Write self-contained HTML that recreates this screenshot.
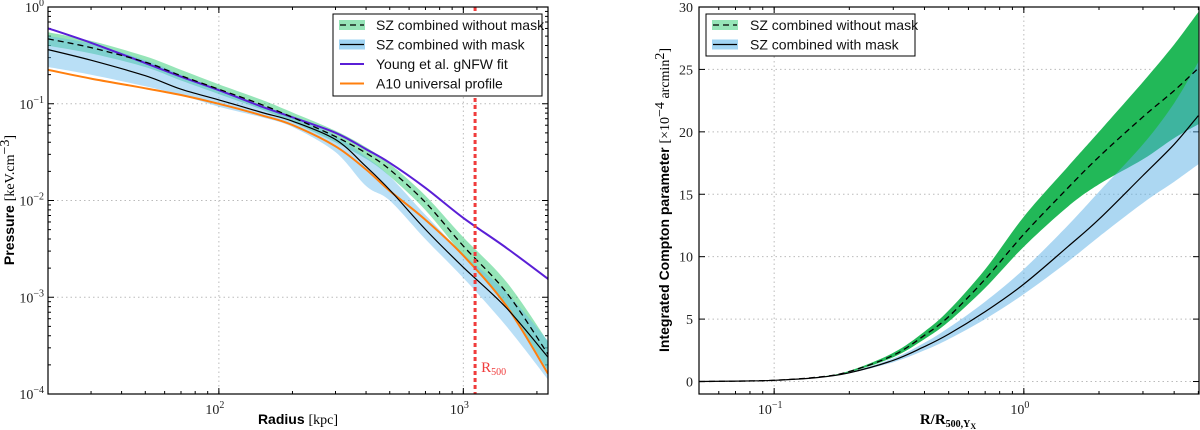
<!DOCTYPE html>
<html><head><meta charset="utf-8"><style>
html,body{margin:0;padding:0;background:#fff;}
svg{display:block;}
.tk{font-family:"Liberation Serif",serif;font-size:14px;fill:#222;}
.lg{font-family:"Liberation Sans",sans-serif;font-size:14px;fill:#111;}
.al{font-family:"Liberation Sans",sans-serif;font-size:14px;font-weight:bold;fill:#000;}
.as{font-family:"Liberation Serif",serif;font-size:14px;font-weight:normal;}
</style></head><body>
<svg id="fig" width="1200" height="430" viewBox="0 0 1200 430" xmlns="http://www.w3.org/2000/svg">
<g id="left"></g>
<g id="right"></g>
</svg>
<script>
// ---- Left chart data (log10 pressure) ----
const radii = [20,30,50,70,100,150,200,300,400,500,700,1000,1500,2220];
const youngLog = [-0.22,-0.37,-0.58,-0.72,-0.86,-1.03,-1.14,-1.30,-1.47,-1.61,-1.87,-2.18,-2.49,-2.81];
const a10Log = [-0.65,-0.74,-0.84,-0.91,-1.00,-1.12,-1.22,-1.44,-1.68,-1.90,-2.20,-2.57,-3.09,-3.79];
const maskLog = [-0.44,-0.55,-0.71,-0.85,-0.96,-1.09,-1.18,-1.37,-1.65,-1.89,-2.30,-2.69,-3.11,-3.62];
const nomaskLog = [-0.33,-0.42,-0.57,-0.71,-0.85,-1.01,-1.14,-1.34,-1.51,-1.68,-2.02,-2.47,-2.95,-3.59];
const nomaskUpLog = [-0.26,-0.35,-0.51,-0.65,-0.80,-0.96,-1.09,-1.28,-1.45,-1.62,-1.95,-2.38,-2.84,-3.46];
const nomaskLoLog = [-0.40,-0.48,-0.62,-0.76,-0.90,-1.06,-1.19,-1.40,-1.57,-1.75,-2.10,-2.57,-3.08,-3.76];
const maskUpLog = [-0.30,-0.38,-0.55,-0.70,-0.87,-1.02,-1.13,-1.33,-1.55,-1.75,-2.15,-2.55,-2.95,-3.45];
const maskLoLog = [-0.62,-0.70,-0.82,-0.91,-1.03,-1.14,-1.24,-1.50,-1.85,-2.00,-2.40,-2.80,-3.30,-3.85];
const r500 = 1117;
const leftYTicks = [0,-1,-2,-3,-4];
const leftXTicks = [2,3];
// ---- Right chart data ----
const ratios = [0.05,0.07,0.1,0.15,0.2,0.3,0.4,0.5,0.7,1,1.5,2,3,4,5];
const yNomask = [0,0.03,0.1,0.35,0.8,2.1,3.7,5.2,8.2,11.8,15.5,18.0,21.2,23.3,25.1];
const yNomaskUp = [0,0.03,0.1,0.37,0.85,2.3,4.0,5.7,9.0,13.2,17.2,20.0,24.0,27.0,29.6];
const yNomaskLo = [0,0.03,0.1,0.33,0.75,1.95,3.4,4.8,7.5,10.8,14.0,15.8,17.8,19.5,20.6];
const yMask = [0,0.03,0.1,0.32,0.7,1.7,2.8,3.8,5.6,7.8,10.8,13.0,16.5,19.0,21.3];
const yMaskUp = [0,0.03,0.1,0.33,0.75,1.85,3.1,4.3,6.4,9.0,12.5,15.2,19.0,22.3,25.6];
const yMaskLo = [0,0.03,0.1,0.3,0.65,1.55,2.5,3.4,5.0,7.0,9.6,11.6,14.3,16.0,17.4];
const rightYTicks = [0,5,10,15,20,25,30];
const rightXTicks = [-1,0];

const NS="http://www.w3.org/2000/svg";
function mk(p,tag,at,txt){const e=document.createElementNS(NS,tag);for(const k in at)e.setAttribute(k,at[k]);if(txt!==undefined)e.textContent=txt;p.appendChild(e);return e;}

const L={x0:48,x1:548,y0:7,y1:394,lxmin:Math.log10(20),lxmax:Math.log10(2220)};
const lx=r=>L.x0+(Math.log10(r)-L.lxmin)/(L.lxmax-L.lxmin)*(L.x1-L.x0);
const ly=lg=>L.y0+(0-lg)/4*(L.y1-L.y0);
const R={x0:699,x1:1199,y0:7,y1:394,lxmin:Math.log10(0.05),lxmax:Math.log10(5.03)};
const rx=v=>R.x0+(Math.log10(v)-R.lxmin)/(R.lxmax-R.lxmin)*(R.x1-R.x0);
const ry=v=>R.y1-(v+1)/31*(R.y1-R.y0);

function smooth(pts,start){
 let d=(start?'M':'L')+pts[0][0].toFixed(1)+','+pts[0][1].toFixed(1);
 for(let i=0;i<pts.length-1;i++){
  const p0=pts[Math.max(0,i-1)],p1=pts[i],p2=pts[i+1],p3=pts[Math.min(pts.length-1,i+2)];
  const c1x=p1[0]+(p2[0]-p0[0])/6,c1y=p1[1]+(p2[1]-p0[1])/6;
  const c2x=p2[0]-(p3[0]-p1[0])/6,c2y=p2[1]-(p3[1]-p1[1])/6;
  d+='C'+c1x.toFixed(1)+','+c1y.toFixed(1)+' '+c2x.toFixed(1)+','+c2y.toFixed(1)+' '+p2[0].toFixed(1)+','+p2[1].toFixed(1);
 }
 return d;
}
function pathLine(xs,ys,fx,fy){return smooth(xs.map((x,i)=>[fx(x),fy(ys[i])]),true);}
function pathBand(xs,up,lo,fx,fy){
 const a=xs.map((x,i)=>[fx(x),fy(up[i])]);
 const b=xs.map((x,i)=>[fx(x),fy(lo[i])]).reverse();
 return smooth(a,true)+smooth(b,false)+'Z';
}

// ===== LEFT =====
const gl=document.getElementById('left');
mk(gl,'clipPath',{id:'cl'}).appendChild(document.createElementNS(NS,'rect'));
const clr=gl.querySelector('#cl rect');clr.setAttribute('x',L.x0);clr.setAttribute('y',L.y0);clr.setAttribute('width',L.x1-L.x0);clr.setAttribute('height',L.y1-L.y0);
leftYTicks.forEach(t=>{
 const y=ly(t);
 if(t!==0&&t!==-4){const g=mk(gl,'line',{x1:L.x0,x2:L.x1,y1:y,y2:y,stroke:'#bbb','stroke-dasharray':'1.5,3','stroke-width':1});
 }
 const tl=mk(gl,'text',{x:L.x0-4,y:y+5,'text-anchor':'end',class:'tk'});
 
 tl.appendChild(document.createTextNode('10'));
 mk(tl,'tspan',{dy:-6,'font-size':'10'},t===0?'0':'\u2212'+(-t));
 mk(gl,'line',{x1:L.x0,x2:L.x0+6,y1:y,y2:y,stroke:'#000'});
 mk(gl,'line',{x1:L.x1,x2:L.x1-6,y1:y,y2:y,stroke:'#000'});
 if(t>-4)for(let m=2;m<10;m++){const ym=ly(t-1+Math.log10(m));mk(gl,'line',{x1:L.x0,x2:L.x0+3,y1:ym,y2:ym,stroke:'#000'});mk(gl,'line',{x1:L.x1,x2:L.x1-3,y1:ym,y2:ym,stroke:'#000'});}
});
leftXTicks.forEach(t=>{
 const x=lx(Math.pow(10,t));
 const g=mk(gl,'line',{x1:x,x2:x,y1:L.y0,y2:L.y1,stroke:'#bbb','stroke-dasharray':'1.5,3'});
 
 mk(gl,'line',{x1:x,x2:x,y1:L.y1,y2:L.y1-6,stroke:'#000'});mk(gl,'line',{x1:x,x2:x,y1:L.y0,y2:L.y0+6,stroke:'#000'});
 const tl=mk(gl,'text',{x:x-4,y:L.y1+20,'text-anchor':'middle',class:'tk'});
 
 tl.appendChild(document.createTextNode('10'));mk(tl,'tspan',{dy:-6,'font-size':'10'},String(t));
});
for(let d=1;d<=3;d++)for(let m=1;m<10;m++){const v=m*Math.pow(10,d);if(v<20||v>2220)continue;const x=lx(v);mk(gl,'line',{x1:x,x2:x,y1:L.y1,y2:L.y1-3,stroke:'#000'});mk(gl,'line',{x1:x,x2:x,y1:L.y0,y2:L.y0+3,stroke:'#000'});}
const gp=mk(gl,'g',{'clip-path':'url(#cl)'});
let e;
e=mk(gp,'path',{d:pathBand(radii,nomaskUpLog,nomaskLoLog,lx,ly),fill:'rgba(46,204,113,0.5)'});

e=mk(gp,'path',{d:pathBand(radii,maskUpLog,maskLoLog,lx,ly),fill:'rgba(100,185,235,0.45)'});

e=mk(gp,'path',{d:pathLine(radii,youngLog,lx,ly),fill:'none',stroke:'#5a1fd6','stroke-width':2});

e=mk(gp,'path',{d:pathLine(radii,a10Log,lx,ly),fill:'none',stroke:'#ff7f0e','stroke-width':2});

e=mk(gp,'path',{d:pathLine(radii,maskLog,lx,ly),fill:'none',stroke:'#000','stroke-width':1.2});

e=mk(gp,'path',{d:pathLine(radii,nomaskLog,lx,ly),fill:'none',stroke:'#000','stroke-width':1.3,'stroke-dasharray':'6,4'});

const xr=lx(r500);
e=mk(gl,'line',{x1:xr,x2:xr,y1:L.y0,y2:L.y1,stroke:'#f03c3c','stroke-width':3,'stroke-dasharray':'4,3'});

e=mk(gl,'text',{x:xr+6,y:372,fill:'#f03c3c','font-family':'Liberation Serif, serif','font-size':'15'});

e.appendChild(document.createTextNode('R'));mk(e,'tspan',{dy:3,'font-size':'10'},'500');
mk(gl,'rect',{x:L.x0,y:L.y0,width:L.x1-L.x0,height:L.y1-L.y0,fill:'none',stroke:'#000','stroke-width':1.2});
const lg=mk(gl,'g',{});
mk(lg,'rect',{x:333,y:14,width:209,height:82,fill:'#fff',stroke:'#000','stroke-width':1});
const leg=[['SZ combined without mask','rgba(46,204,113,0.5)','#000','6,4'],['SZ combined with mask','rgba(100,185,235,0.6)','#000',''],['Young et al. gNFW fit','','#5a1fd6',''],['A10 universal profile','','#ff7f0e','']];
leg.forEach((l,i)=>{const y=25+i*19.5;const g=mk(lg,'g',{});
 if(l[1])mk(g,'rect',{x:339,y:y-5,width:26,height:10,fill:l[1]});
 mk(g,'line',{x1:340,x2:364,y1:y,y2:y,stroke:l[2],'stroke-width':l[1]?1.3:2,'stroke-dasharray':l[3]||'none'});
 mk(g,'text',{x:376,y:y+5,class:'lg'},l[0]);});
e=mk(gl,'text',{x:298,y:424,'text-anchor':'middle',class:'al'});

e.appendChild(document.createTextNode('Radius '));mk(e,'tspan',{class:'as'},'[kpc]');
e=mk(gl,'text',{x:0,y:0,'text-anchor':'middle',class:'al',transform:'translate(14,200) rotate(-90)'});

e.appendChild(document.createTextNode('Pressure '));mk(e,'tspan',{class:'as'},'[keV.cm');mk(e,'tspan',{class:'as',dy:-5,'font-size':'10'},'\u22123');mk(e,'tspan',{class:'as',dy:5},']');

// ===== RIGHT =====
const gr=document.getElementById('right');
mk(gr,'clipPath',{id:'cr'}).appendChild(document.createElementNS(NS,'rect'));
const crr=gr.querySelector('#cr rect');crr.setAttribute('x',R.x0);crr.setAttribute('y',R.y0);crr.setAttribute('width',R.x1-R.x0);crr.setAttribute('height',R.y1-R.y0);
rightYTicks.forEach(t=>{const y=ry(t);
 if(t!==30){const g=mk(gr,'line',{x1:R.x0,x2:R.x1,y1:y,y2:y,stroke:'#bbb','stroke-dasharray':'1.5,3'});}
 mk(gr,'line',{x1:R.x0,x2:R.x0+6,y1:y,y2:y,stroke:'#000'});mk(gr,'line',{x1:R.x1,x2:R.x1-6,y1:y,y2:y,stroke:'#000'});
 const tl=mk(gr,'text',{x:R.x0-6,y:y+5,'text-anchor':'end',class:'tk'},String(t));});
rightXTicks.forEach(t=>{const x=rx(Math.pow(10,t));
 const g=mk(gr,'line',{x1:x,x2:x,y1:R.y0,y2:R.y1,stroke:'#bbb','stroke-dasharray':'1.5,3'});
 mk(gr,'line',{x1:x,x2:x,y1:R.y1,y2:R.y1-6,stroke:'#000'});mk(gr,'line',{x1:x,x2:x,y1:R.y0,y2:R.y0+6,stroke:'#000'});
 const tl=mk(gr,'text',{x:x-4,y:R.y1+20,'text-anchor':'middle',class:'tk'});
 tl.appendChild(document.createTextNode('10'));mk(tl,'tspan',{dy:-6,'font-size':'10'},t<0?'\u22121':'0');});
for(let d=-2;d<=0;d++)for(let m=1;m<10;m++){const v=m*Math.pow(10,d);if(v<0.05||v>5.03)continue;const x=rx(v);mk(gr,'line',{x1:x,x2:x,y1:R.y1,y2:R.y1-3,stroke:'#000'});mk(gr,'line',{x1:x,x2:x,y1:R.y0,y2:R.y0+3,stroke:'#000'});}
const gq=mk(gr,'g',{'clip-path':'url(#cr)'});
e=mk(gq,'path',{d:pathBand(ratios,yNomaskUp,yNomaskLo,rx,ry),fill:'#22b858'});

e=mk(gq,'path',{d:pathBand(ratios,yMaskUp,yMaskLo,rx,ry),fill:'rgba(90,176,229,0.5)'});

e=mk(gq,'path',{d:pathLine(ratios,yMask,rx,ry),fill:'none',stroke:'#000','stroke-width':1.2});

e=mk(gq,'path',{d:pathLine(ratios,yNomask,rx,ry),fill:'none',stroke:'#000','stroke-width':1.3,'stroke-dasharray':'6,4'});

mk(gr,'rect',{x:R.x0,y:R.y0,width:R.x1-R.x0,height:R.y1-R.y0,fill:'none',stroke:'#000','stroke-width':1.2});
const lg2=mk(gr,'g',{});
mk(lg2,'rect',{x:706,y:14,width:209,height:42,fill:'#fff',stroke:'#000'});
[['SZ combined without mask','rgba(46,204,113,0.5)','6,4'],['SZ combined with mask','rgba(100,185,235,0.6)','']].forEach((l,i)=>{const y=25+i*19.5;const g=mk(lg2,'g',{});
 mk(g,'rect',{x:712,y:y-5,width:26,height:10,fill:l[1]});
 mk(g,'line',{x1:713,x2:737,y1:y,y2:y,stroke:'#000','stroke-width':1.3,'stroke-dasharray':l[2]||'none'});
 mk(g,'text',{x:750,y:y+5,class:'lg'},l[0]);});
e=mk(gr,'text',{x:948,y:424,'text-anchor':'middle','font-family':'Liberation Serif, serif','font-size':'15','font-weight':'bold'});

e.appendChild(document.createTextNode('R/R'));mk(e,'tspan',{dy:3,'font-size':'10'},'500,Y');mk(e,'tspan',{dy:2,'font-size':'8'},'X');
e=mk(gr,'text',{x:0,y:0,'text-anchor':'middle',class:'al',transform:'translate(669,200) rotate(-90)'});

e.appendChild(document.createTextNode('Integrated Compton parameter '));mk(e,'tspan',{class:'as'},'[\u00d710');mk(e,'tspan',{class:'as',dy:-5,'font-size':'10'},'\u22124');mk(e,'tspan',{class:'as',dy:5},' arcmin');mk(e,'tspan',{class:'as',dy:-5,'font-size':'10'},'2');mk(e,'tspan',{class:'as',dy:5},']');
</script>
</body></html>
